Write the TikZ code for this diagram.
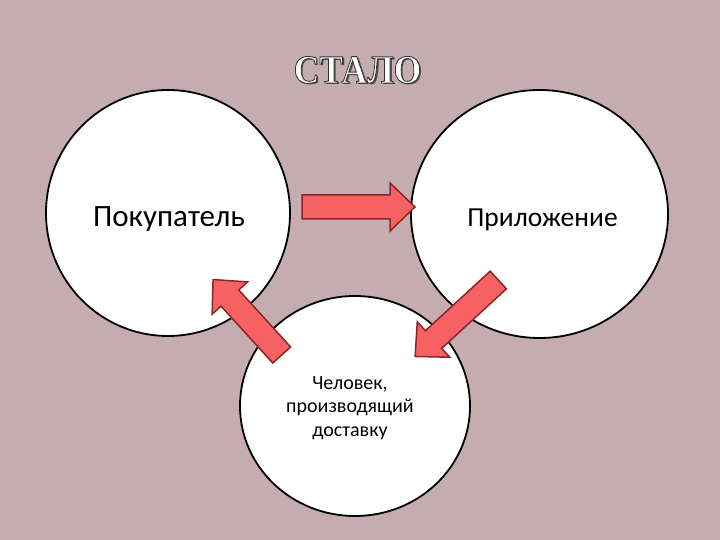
\documentclass[tikz,border=0pt]{standalone}
\usepackage{fontspec}
\setmainfont{Carlito}
\newfontfamily\titlefont{Liberation Serif}
\usetikzlibrary{shapes.geometric}
\definecolor{slidebg}{RGB}{196,172,176}
\definecolor{arrowfill}{RGB}{246,98,98}
\definecolor{arrowline}{RGB}{140,38,38}
\newcommand{\outlined}[1]{\special{pdf:literal 2 Tr 0.9 w 0.2 0.2 0.2 RG}#1\special{pdf:literal 0 Tr}}
\tikzset{
  role/.style={ellipse,draw=black,line width=1.8pt,fill=white,inner sep=0pt},
  rolename/.style={anchor=base,inner sep=0pt,font=\fontsize{#1}{36}\selectfont},
  titletext/.style={anchor=base,inner sep=0pt,xscale=0.89,font=\titlefont\bfseries\fontsize{40}{44}\selectfont},
  arrowbox/.style={fill=arrowfill,draw=arrowline,line width=1.5pt,line join=miter},
  pics/blockarrow/.style={code={
    \draw[arrowbox] (0,-12) -- ({#1-25},-12) -- ({#1-25},-24) -- (#1,0)
      -- ({#1-25},24) -- ({#1-25},12) -- (0,12) -- cycle;
  }}
}
\begin{document}
\begin{tikzpicture}[x=1pt,y=1pt]
    \fill[slidebg] (0,0) rectangle (720,540);
    \useasboundingbox (0,0) rectangle (720,540);
    % title with shadow
    \node[titletext,text=black!70] (titleshadow) at (359.5,455) {СТАЛО};
    \node[titletext,text=white] (title) at (357.5,457) {\outlined{СТАЛО}};
    % circles
    \node[role,minimum width=244pt,minimum height=246pt] (buyer) at (168,327) {};
    \node[role,minimum width=257pt,minimum height=248pt] (app) at (539.5,326) {};
    \node[role,minimum width=230pt,minimum height=220pt] (courier) at (355,134) {};
    \node[rolename=31] (buyertext) at (169,313) {Покупатель};
    \node[rolename=27.5] (apptext) at (542.5,313) {Приложение};
    \node[anchor=north,inner sep=0pt,align=center,font=\fontsize{20}{23.5}\selectfont]
        (couriertext) at (350,164) {Человек,\\производящий\\доставку};
    % arrows
    \pic (toapp) at (302,333) {blockarrow=113};
    \pic[rotate=132.3] (tobuyer) at (281.7,185) {blockarrow=102};
    \pic[rotate=222.6] (tocourier) at (498.3,260) {blockarrow=113};
\end{tikzpicture}
\end{document}
